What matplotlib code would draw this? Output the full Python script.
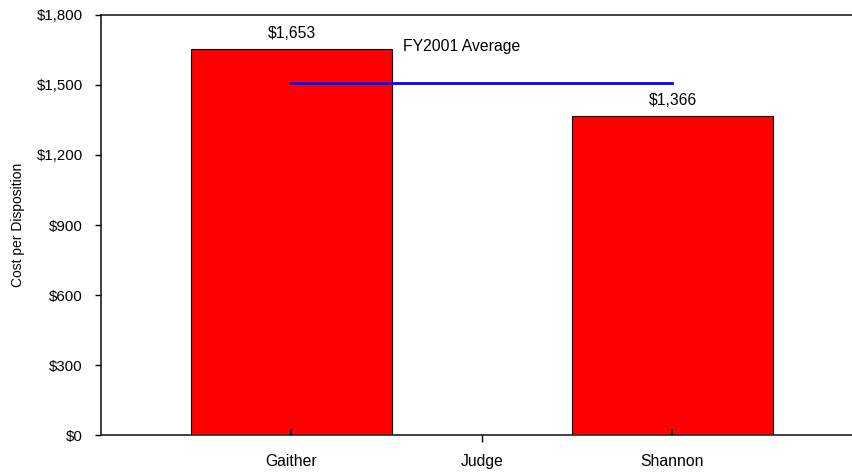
import matplotlib
matplotlib.use('Agg')
import matplotlib.pyplot as plt
from matplotlib.ticker import FuncFormatter, FixedLocator
from matplotlib import rcParams

rcParams['font.family'] = ['Liberation Sans', 'DejaVu Sans']
rcParams['font.size'] = 11.3

# data
judges = ['Gaither', 'Shannon']
cost = [1653, 1366]
fy2001_avg = 1510
y_ticks = [0, 300, 600, 900, 1200, 1500, 1800]

fig = plt.figure(figsize=(8.53, 4.72), dpi=100)
ax = fig.add_axes([101 / 853, 1 - 435 / 472, 762 / 853, 420 / 472])
ax.set_axisbelow(False)

x = list(range(len(judges)))
ax.bar(x, cost, width=0.528, color='#ff0000', edgecolor='black', linewidth=0.8, zorder=2)
ax.plot(x, [fy2001_avg] * len(x), color='#0000ff', linewidth=2, zorder=3)

# value labels
for xi, v in zip(x, cost):
    ax.annotate(f'${v:,}', (xi, v), xytext=(0, 11.5), textcoords='offset points',
                ha='center', va='center')
ax.text(0.293, 1667, 'FY2001 Average', ha='left', va='center')

ax.set_xlim(-0.5, len(judges) - 0.5)
ax.set_ylim(0, 1800)
ax.set_yticks(y_ticks)
ax.yaxis.set_major_formatter(FuncFormatter(lambda v, _: f'${int(v):,}'))
ax.tick_params(axis='y', direction='out', length=4, width=1, pad=9, colors='black', labelsize=10.8)

ax.set_xticks(x)
ax.set_xticklabels(judges)
ax.tick_params(axis='x', which='major', direction='in', length=4, width=1.5, pad=14)
ax.xaxis.set_minor_locator(FixedLocator([0.5]))
ax.tick_params(axis='x', which='minor', direction='out', length=5, width=1)

ax.set_xlabel('Judge')
ax.xaxis.set_label_coords(0.5, -0.046)
ax.xaxis.label.set_va('top')
ax.set_ylabel('Cost per Disposition', fontsize=10)
ax.yaxis.set_label_coords(-0.1, 0.5)

ax.spines['right'].set_visible(False)
for s in ['left', 'top', 'bottom']:
    ax.spines[s].set_color('#333333')
    ax.spines[s].set_linewidth(1.3)

fig.savefig('out.png', dpi=100)
